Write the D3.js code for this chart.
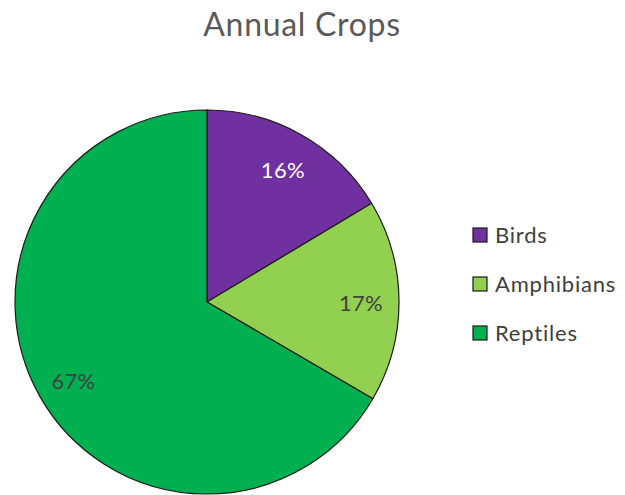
<!DOCTYPE html>
<html>
<head>
<meta charset="utf-8">
<script src="https://cdn.jsdelivr.net/npm/d3@7"></script>
<style>
  html, body { margin: 0; padding: 0; background: #fff; }
  svg { display: block; font-family: Lato, "Open Sans", sans-serif; }
</style>
</head>
<body>
<svg id="chart" width="625" height="495"></svg>
<script>
// Share of annual crops by group (percent)
const categories = ["Birds", "Amphibians", "Reptiles"];
const shares = [16.4, 17.0, 66.6];
const colors = ["#7030A0", "#92D050", "#00B050"];
const labelColors = ["#ffffff", "#404040", "#404040"];
const title = "Annual Crops";

const svg = d3.select("#chart");
const cx = 207, cy = 302, radius = 192;

svg.append("text")
  .attr("x", 302).attr("y", 36)
  .attr("text-anchor", "middle")
  .attr("fill", "#595959")
  .attr("font-size", 32)
  .attr("letter-spacing", 0.7)
  .text(title);

const data = categories.map((c, i) => ({ name: c, value: shares[i], i }));
const total = d3.sum(shares);

const pie = d3.pie().sort(null).value(d => d.value);
const arc = d3.arc().innerRadius(0).outerRadius(radius);
const labelArc = d3.arc().innerRadius(154).outerRadius(154);

const g = svg.append("g").attr("transform", `translate(${cx},${cy})`);
const arcs = pie(data);

g.selectAll("path")
  .data(arcs)
  .join("path")
  .attr("d", arc)
  .attr("fill", d => colors[d.data.i])
  .attr("stroke", "#1a1a1a")
  .attr("stroke-width", 1.2);

g.selectAll("text.lbl")
  .data(arcs)
  .join("text")
  .attr("class", "lbl")
  .attr("transform", d => `translate(${labelArc.centroid(d)})`)
  .attr("text-anchor", "middle")
  .attr("dy", "0.45em")
  .attr("font-size", 22)
  .attr("letter-spacing", 0.3)
  .attr("fill", d => labelColors[d.data.i])
  .text(d => Math.round(d.data.value / total * 100) + "%");

// Legend
const legend = svg.append("g").attr("transform", "translate(473,235)");
const rows = legend.selectAll("g")
  .data(categories)
  .join("g")
  .attr("transform", (d, i) => `translate(0,${i * 49})`);
rows.append("rect")
  .attr("x", 0).attr("y", -7)
  .attr("width", 14).attr("height", 14)
  .attr("fill", (d, i) => colors[i])
  .attr("stroke", "#1a1a1a")
  .attr("stroke-width", 1.2);
rows.append("text")
  .attr("x", 22).attr("y", 0)
  .attr("dy", "0.38em")
  .attr("font-size", 22)
  .attr("letter-spacing", 0.8)
  .attr("fill", "#404040")
  .text(d => d);
</script>
</body>
</html>
